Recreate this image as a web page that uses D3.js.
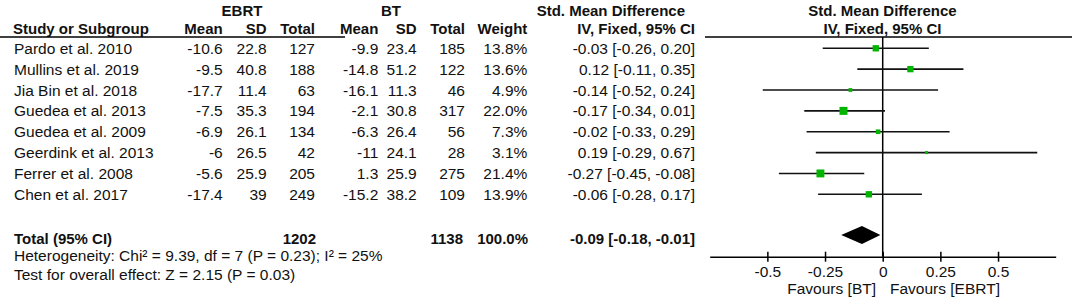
<!DOCTYPE html>
<html><head><meta charset="utf-8">
<script src="https://cdn.jsdelivr.net/npm/d3@7"></script>
<style>
html,body{margin:0;padding:0;background:#fff;}
svg{display:block;font-family:"Liberation Sans",Arial,sans-serif;}
</style></head>
<body><svg id="c" width="1072" height="303"></svg>
<script>
const studies = ["Pardo et al. 2010","Mullins et al. 2019","Jia Bin et al. 2018","Guedea et al. 2013","Guedea et al. 2009","Geerdink et al. 2013","Ferrer et al. 2008","Chen et al. 2017"];
const ebrtMean = [-10.6,-9.5,-17.7,-7.5,-6.9,-6,-5.6,-17.4];
const ebrtSD = [22.8,40.8,11.4,35.3,26.1,26.5,25.9,39];
const ebrtTotal = [127,188,63,194,134,42,205,249];
const btMean = [-9.9,-14.8,-16.1,-2.1,-6.3,-11,1.3,-15.2];
const btSD = [23.4,51.2,11.3,30.8,26.4,24.1,25.9,38.2];
const btTotal = [185,122,46,317,56,28,275,109];
const weights = [13.8,13.6,4.9,22.0,7.3,3.1,21.4,13.9];
const smd = [-0.03,0.12,-0.14,-0.17,-0.02,0.19,-0.27,-0.06];
const ciLow = [-0.26,-0.11,-0.52,-0.34,-0.33,-0.29,-0.45,-0.28];
const ciHigh = [0.20,0.35,0.24,0.01,0.29,0.67,-0.08,0.17];
const total = {ebrt:1202, bt:1138, weight:100.0, est:-0.09, lo:-0.18, hi:-0.01};
const tickValues = [-0.5,-0.25,0,0.25,0.5];
const tickLabels = ["-0.5","-0.25","0","0.25","0.5"];
const heterogeneity = "Heterogeneity: Chi² = 9.39, df = 7 (P = 0.23); I² = 25%";
const overall = "Test for overall effect: Z = 2.15 (P = 0.03)";

const loc = d3.formatLocale({decimal:".",thousands:",",grouping:[3],currency:["$",""],minus:"-"});
const f2 = loc.format(".2f"), f1 = loc.format(".1f");

const svg = d3.select("#c");
const FS = 15.5;
const x = d3.scaleLinear().domain([-0.75,0.75]).range([709.7,1055.7]);
const y = d3.scaleLinear().domain([0,7]).range([48.3,194.3]);
const sz = d3.scaleSqrt().domain([0,22]).range([0,8]);

function txt(s, xx, yy, anchor, bold, size){
  return svg.append("text").attr("x",xx).attr("y",yy).attr("text-anchor",anchor||"start")
    .attr("font-size",size||FS).attr("font-weight",bold?"bold":"normal").attr("fill","#111").text(s);
}

// headers
txt("EBRT",242,15.5,"middle",true,15);
txt("BT",391,15.5,"middle",true,15);
txt("Std. Mean Difference",536.7,15.5,"start",true,15);
txt("Std. Mean Difference",882.5,15.5,"middle",true,15);
const hy = 33.5;
txt("Study or Subgroup",13,hy,"start",true,15);
[["Mean",222.7],["SD",266.7],["Total",315],["Mean",378.3],["SD",416.7],["Total",465],["Weight",527.3],["IV, Fixed, 95% CI",695]]
  .forEach(d=>txt(d[0],d[1],hy,"end",true,15));
txt("IV, Fixed, 95% CI",882.5,hy,"middle",true,15);

svg.append("line").attr("x1",0).attr("x2",345).attr("y1",37).attr("y2",37).attr("stroke","#000").attr("stroke-width",1.5);
svg.append("line").attr("x1",705).attr("x2",1072).attr("y1",37).attr("y2",37).attr("stroke","#000").attr("stroke-width",1.5);

// rows
studies.forEach((s,i)=>{
  const by = y(i)+5.5;
  txt(s,14,by,"start");
  txt(String(ebrtMean[i]),222.7,by,"end");
  txt(String(ebrtSD[i]),266.7,by,"end");
  txt(String(ebrtTotal[i]),315,by,"end");
  txt(String(btMean[i]),378.3,by,"end");
  txt(String(btSD[i]),416.7,by,"end");
  txt(String(btTotal[i]),465,by,"end");
  txt(f1(weights[i])+"%",527.3,by,"end");
  txt(`${f2(smd[i])} [${f2(ciLow[i])}, ${f2(ciHigh[i])}]`,695,by,"end");
});

// zero line
svg.append("line").attr("x1",x(0)).attr("x2",x(0)).attr("y1",37).attr("y2",256.7).attr("stroke","#000").attr("stroke-width",1.5);

// CI lines
svg.selectAll("line.ci").data(studies).enter().append("line").attr("class","ci")
  .attr("x1",(d,i)=>x(ciLow[i])).attr("x2",(d,i)=>x(ciHigh[i]))
  .attr("y1",(d,i)=>y(i)).attr("y2",(d,i)=>y(i)).attr("stroke","#111").attr("stroke-width",1.6);
svg.selectAll("rect.sq").data(studies).enter().append("rect").attr("class","sq")
  .attr("x",(d,i)=>x(smd[i])-sz(weights[i])/2).attr("y",(d,i)=>y(i)-sz(weights[i])/2)
  .attr("width",(d,i)=>sz(weights[i])).attr("height",(d,i)=>sz(weights[i])).attr("fill","#00b400");

// total
const ty = 244;
txt("Total (95% CI)",14,ty,"start",true,15);
txt(String(total.ebrt),316,ty,"end",true,15);
txt(String(total.bt),463,ty,"end",true,15);
txt(f1(total.weight)+"%",528,ty,"end",true,15);
txt(`${f2(total.est)} [${f2(total.lo)}, ${f2(total.hi)}]`,695,ty,"end",true,15);
const dy = 235;
svg.append("path").attr("d",`M${x(total.lo)},${dy} L${x(total.est)},${dy-9} L${x(total.hi)},${dy} L${x(total.est)},${dy+9} Z`).attr("fill","#000");

txt(heterogeneity,14,261,"start");
txt(overall,14,279.5,"start");

// axis
const ax = svg.append("g").attr("transform","translate(0,256.7)")
  .call(d3.axisBottom(x).tickValues(tickValues).tickFormat((d,i)=>tickLabels[i]).tickSizeOuter(0).tickSizeInner(5).tickPadding(4));
ax.select(".domain").attr("stroke","#000").attr("stroke-width",1.5);
ax.selectAll(".tick line").attr("y1",-5).attr("stroke","#000").attr("stroke-width",1.5);
ax.selectAll(".tick text").attr("font-size",FS).attr("font-family","Liberation Sans, Arial, sans-serif").attr("fill","#111");

txt("Favours [BT]",876,294,"end");
txt("Favours [EBRT]",890,294,"start");
</script></body></html>
